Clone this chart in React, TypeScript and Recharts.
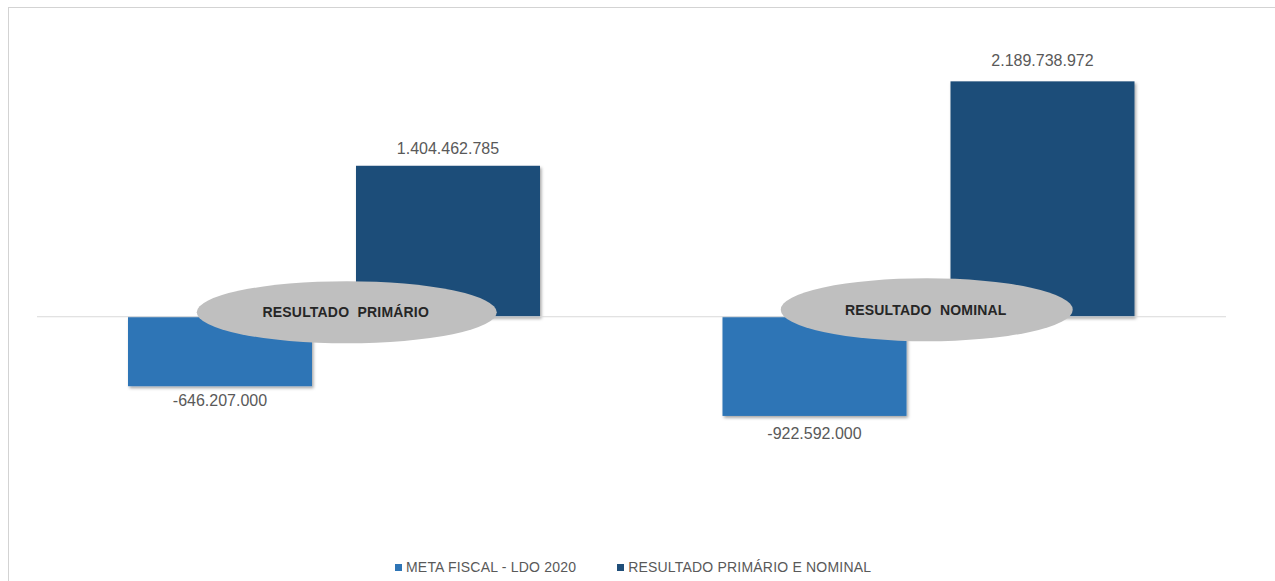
import React from 'react';
import { BarChart, Bar, XAxis, YAxis, ReferenceLine, ReferenceDot, LabelList, Legend } from 'recharts';

const categories = ['RESULTADO PRIMÁRIO', 'RESULTADO NOMINAL'];
const ellipseLabels = ['RESULTADO  PRIMÁRIO', 'RESULTADO  NOMINAL'];
const metaFiscal = [-646207000, -922592000];
const resultado = [1404462785, 2189738972];
const seriesNames = ['META FISCAL - LDO 2020', 'RESULTADO PRIMÁRIO E NOMINAL'];

const data = categories.map((c, i) => ({ cat: c, meta: metaFiscal[i], res: resultado[i] }));

const ellipseStyle = [
  { dx: 12.5, dy: -4.5, rx: 150, ry: 31 },
  { dx: -2, dy: -7, rx: 146, ry: 31.5 },
];

// distance of the value label centre from the bar end, per category
const labelGap = {
  meta: [14.5, 18],
  res: [17, 21],
};

const fmt = (v: number) => {
  const s = Math.abs(Math.round(v)).toString().replace(/\B(?=(\d{3})+(?!\d))/g, '.');
  return (v < 0 ? '-' : '') + s;
};

const BarShape = (p: any) => {
  const top = Math.min(p.y, p.y + p.height);
  const h = Math.abs(p.height);
  return <rect x={p.x} y={top} width={p.width} height={h} fill={p.fill} filter="url(#barShadow)" />;
};

const makeValueLabel = (key: 'meta' | 'res') => (p: any) => {
  const { x, y, width, height, value, index } = p;
  const top = Math.min(y, y + height);
  const bottom = Math.max(y, y + height);
  const gap = labelGap[key][index] ?? 18;
  const ty = value >= 0 ? top - gap : bottom + gap;
  return (
    <text x={x + width / 2} y={ty} textAnchor="middle" dominantBaseline="central"
      fontFamily="'Liberation Sans', Arial, sans-serif" fontSize={16} fill="#595959">
      {fmt(value)}
    </text>
  );
};

const makeEllipse = (i: number) => (p: any) => {
  const e = ellipseStyle[i];
  const cx = p.cx + e.dx;
  const cy = p.cy + e.dy;
  return (
    <g>
      <ellipse cx={cx} cy={cy} rx={e.rx} ry={e.ry} fill="#bfbfbf" />
      <text x={cx - 1} y={cy} textAnchor="middle" dominantBaseline="central"
        fontFamily="'Liberation Sans', Arial, sans-serif" fontSize={14} fontWeight="bold" fill="#262626"
        letterSpacing={0.2} style={{ whiteSpace: 'pre' }} xmlSpace="preserve">
        {ellipseLabels[i]}
      </text>
    </g>
  );
};

const LegendContent = (props: any) => {
  const payload = props.payload || [];
  return (
    <div style={{ display: 'flex', alignItems: 'center', fontFamily: "'Liberation Sans', Arial, sans-serif", fontSize: 14, color: '#595959', lineHeight: '16px', whiteSpace: 'nowrap', letterSpacing: '0.2px' }}>
      {payload.map((entry: any, i: number) => (
        <div key={i} style={{ display: 'flex', alignItems: 'center', marginRight: i === 0 ? 41 : 0 }}>
          <span style={{ display: 'inline-block', width: 7, height: 7, background: entry.color, marginRight: 4 }} />
          <span>{entry.value}</span>
        </div>
      ))}
    </div>
  );
};

export default function App() {
  return (
    <div style={{ position: 'absolute', left: 0, top: 0, width: 1275, height: 581, overflow: 'hidden', background: '#ffffff' }}>
      <svg width={0} height={0} style={{ position: 'absolute' }}>
        <defs>
          <filter id="barShadow" x="-10%" y="-10%" width="130%" height="130%">
            <feDropShadow dx="1.5" dy="2" stdDeviation="1.5" floodColor="#000000" floodOpacity="0.35" />
          </filter>
        </defs>
      </svg>
      <div style={{ position: 'absolute', left: 8, top: 7, width: 1267, height: 574, borderTop: '1px solid #d3d3d3', borderLeft: '1px solid #d3d3d3', boxSizing: 'border-box' }}>
        <BarChart width={1266} height={573} data={data} barSize={184} barGap={44}
          margin={{ top: 40, right: 49, left: 28, bottom: 103 }}>
          <XAxis dataKey="cat" hide />
          <YAxis hide domain={[-1500000000, 2500000000]} allowDataOverflow />
          <ReferenceLine y={0} stroke="#d9d9d9" strokeWidth={1} />
          <Bar dataKey="meta" name={seriesNames[0]} fill="#2e75b6" isAnimationActive={false} shape={BarShape}>
            <LabelList dataKey="meta" content={makeValueLabel('meta')} />
          </Bar>
          <Bar dataKey="res" name={seriesNames[1]} fill="#1f4e79" isAnimationActive={false} shape={BarShape}>
            <LabelList dataKey="res" content={makeValueLabel('res')} />
          </Bar>
          {categories.map((c, i) => (
            <ReferenceDot key={c} x={c} y={0} r={1} ifOverflow="visible" shape={makeEllipse(i)} />
          ))}
          <Legend verticalAlign="middle" align="center" content={LegendContent}
            wrapperStyle={{ top: 551, left: 386, width: 'auto' }} />
        </BarChart>
      </div>
    </div>
  );
}
